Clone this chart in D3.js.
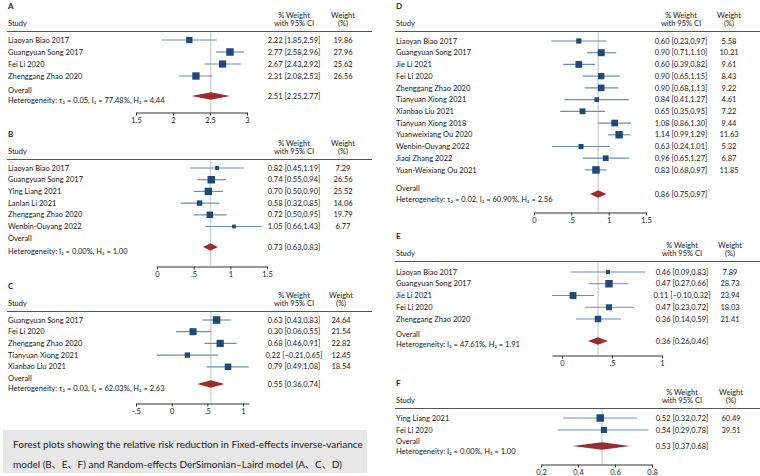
<!DOCTYPE html>
<html>
<head>
<meta charset="utf-8">
<script src="https://cdnjs.cloudflare.com/ajax/libs/d3/7.8.5/d3.min.js"></script>
<style>
  body { margin: 0; background: #fff; }
  svg text { font-family: Lato, "Noto Sans CJK SC", sans-serif; fill: #222; }
</style>
</head>
<body>
<svg id="chart" width="760" height="476"></svg>
<script>
// ---- data ----
// A
var studiesA = ["Liaoyan Biao 2017", "Guangyuan Song 2017", "Fei Li 2020", "Zhenggang Zhao 2020"];
var esA = [2.22, 2.77, 2.67, 2.31];
var loA = [1.85, 2.58, 2.43, 2.08];
var hiA = [2.59, 2.96, 2.92, 2.53];
var wtA = [19.86, 27.96, 25.62, 26.56];
var overallA = [2.51, 2.25, 2.77];
var hetA = "Heterogeneity: τ₂ = 0.05, I₂ = 77.48%, H₂ = 4.44";
var ticksA = [1.5, 2, 2.5, 3];
var tickLabelsA = ["1.5", "2", "2.5", "3"];

// B
var studiesB = ["Liaoyan Biao 2017", "Guangyuan Song 2017", "Ying Liang 2021", "Lanlan Li 2021", "Zhenggang Zhao 2020", "Wenbin-Ouyang 2022"];
var esB = [0.82, 0.74, 0.70, 0.58, 0.72, 1.05];
var loB = [0.45, 0.55, 0.50, 0.32, 0.50, 0.66];
var hiB = [1.19, 0.94, 0.90, 0.85, 0.95, 1.43];
var wtB = [7.29, 26.56, 25.52, 14.06, 19.79, 6.77];
var overallB = [0.73, 0.63, 0.83];
var hetB = "Heterogeneity: I₂ = 0.00%, H₂ = 1.00";
var ticksB = [0, 0.5, 1, 1.5];
var tickLabelsB = ["0", ".5", "1", "1.5"];

// C
var studiesC = ["Guangyuan Song 2017", "Fei Li 2020", "Zhenggang Zhao 2020", "Tianyuan Xiong 2021", "Xianbao Liu 2021"];
var esC = [0.63, 0.30, 0.68, 0.22, 0.79];
var loC = [0.43, 0.06, 0.46, -0.21, 0.49];
var hiC = [0.83, 0.55, 0.91, 0.65, 1.08];
var wtC = [24.64, 21.54, 22.82, 12.45, 18.54];
var overallC = [0.55, 0.36, 0.74];
var hetC = "Heterogeneity: τ₂ = 0.03, I₂ = 62.03%, H₂ = 2.63";
var ticksC = [-0.5, 0, 0.5, 1];
var tickLabelsC = ["-.5", "0", ".5", "1"];

// D
var studiesD = ["Liaoyan Biao 2017", "Guangyuan Song 2017", "Jie Li 2021", "Fei Li 2020", "Zhenggang Zhao 2020", "Tianyuan Xiong 2021",
  "Xianbao Liu 2021", "Tianyuan Xiong 2018", "Yuanweixiang Ou 2020", "Wenbin-Ouyang 2022", "Jiaqi Zhang 2022", "Yuan-Weixiang Ou 2021"];
var esD = [0.60, 0.90, 0.60, 0.90, 0.90, 0.84, 0.65, 1.08, 1.14, 0.63, 0.96, 0.83];
var loD = [0.23, 0.71, 0.39, 0.65, 0.68, 0.41, 0.35, 0.86, 0.99, 0.24, 0.65, 0.68];
var hiD = [0.97, 1.10, 0.82, 1.15, 1.13, 1.27, 0.95, 1.30, 1.29, 1.01, 1.27, 0.97];
var wtD = [5.58, 10.21, 9.61, 8.43, 9.22, 4.61, 7.22, 9.44, 11.63, 5.32, 6.87, 11.85];
var overallD = [0.86, 0.75, 0.97];
var hetD = "Heterogeneity: τ₂ = 0.02, I₂ = 60.90%, H₂ = 2.56";
var ticksD = [0, 0.5, 1, 1.5];
var tickLabelsD = ["0", ".5", "1", "1.5"];

// E
var studiesE = ["Liaoyan Biao 2017", "Guangyuan Song 2017", "Jie Li 2021", "Fei Li 2020", "Zhenggang Zhao 2020"];
var esE = [0.46, 0.47, 0.11, 0.47, 0.36];
var loE = [0.09, 0.27, -0.10, 0.23, 0.14];
var hiE = [0.83, 0.66, 0.32, 0.72, 0.59];
var wtE = [7.89, 28.73, 23.94, 18.03, 21.41];
var overallE = [0.36, 0.26, 0.46];
var hetE = "Heterogeneity: I₂ = 47.61%, H₂ = 1.91";
var ticksE = [0, 0.5, 1];
var tickLabelsE = ["0", ".5", "1"];

// F
var studiesF = ["Ying Liang 2021", "Fei Li 2020"];
var esF = [0.52, 0.54];
var loF = [0.32, 0.29];
var hiF = [0.72, 0.78];
var wtF = [60.49, 39.51];
var overallF = [0.53, 0.37, 0.68];
var hetF = "Heterogeneity: I₂ = 0.00%, H₂ = 1.00";
var ticksF = [0.2, 0.4, 0.6, 0.8];
var tickLabelsF = ["0.2", "0.4", "0.6", "0.8"];

var caption = ["Forest plots showing the relative risk reduction in Fixed-effects inverse-variance",
  "model (B、E、F) and Random-effects DerSimonian–Laird model (A、C、D)"];

// ---- drawing ----
var svg = d3.select("#chart");
svg.append("rect").attr("width", 760).attr("height", 476).attr("fill", "#fff");

var fs = 7.5;
var f2 = d3.format(".2f");
var boxCol = "#1d4a78", ciCol = "#6b8fb4", diaCol = "#9c2b2e";

function drawPanel(cfg, letter, studies, es, lo, hi, wt, overall, het, ticks, tickLabels) {
  var g = svg.append("g");
  var x = d3.scaleLinear().domain([ticks[0], ticks[ticks.length - 1]]).range(cfg.xr);
  var maxW = d3.max(wt);
  var rowY = function (i) { return cfg.rowY0 + i * cfg.rowH; };

  // panel letter + headers
  g.append("text").attr("x", cfg.x0).attr("y", cfg.sep - 25).attr("dy", "0.35em")
    .style("font-size", "8px").style("font-weight", "bold").text(letter);
  g.append("text").attr("x", cfg.x0).attr("y", cfg.sep - 8).attr("dy", "0.35em")
    .style("font-size", fs + "px").text("Study");
  [["% Weight", cfg.valX, -16], ["with 95% CI", cfg.valX, -8], ["Weight", cfg.wX, -16], ["(%)", cfg.wX, -8]].forEach(function (h) {
    g.append("text").attr("x", h[1]).attr("y", cfg.sep + h[2]).attr("dy", "0.35em")
      .attr("text-anchor", "middle").style("font-size", fs + "px").text(h[0]);
  });
  g.append("line").attr("x1", cfg.x0 - 1).attr("x2", cfg.x1).attr("y1", cfg.sep + 0.5).attr("y2", cfg.sep + 0.5)
    .attr("stroke", "#555").attr("stroke-width", 1);

  // reference line at the pooled estimate
  g.append("line").attr("x1", x(overall[0])).attr("x2", x(overall[0]))
    .attr("y1", cfg.sep + 1).attr("y2", cfg.axisY)
    .attr("stroke", "#d6d6d6").attr("stroke-width", 1.5);

  var rows = g.selectAll("g.row").data(studies).enter().append("g").attr("class", "row");
  rows.append("text").attr("x", cfg.x0).attr("y", function (d, i) { return rowY(i); }).attr("dy", "0.35em")
    .style("font-size", fs + "px").text(function (d) { return d; });
  rows.append("line")
    .attr("x1", function (d, i) { return x(lo[i]); }).attr("x2", function (d, i) { return x(hi[i]); })
    .attr("y1", function (d, i) { return rowY(i); }).attr("y2", function (d, i) { return rowY(i); })
    .attr("stroke", ciCol).attr("stroke-width", 1.2);
  rows.append("rect")
    .attr("width", function (d, i) { return 7.5 * Math.sqrt(wt[i] / maxW); })
    .attr("height", function (d, i) { return 7.5 * Math.sqrt(wt[i] / maxW); })
    .attr("x", function (d, i) { return x(es[i]) - 3.75 * Math.sqrt(wt[i] / maxW); })
    .attr("y", function (d, i) { return rowY(i) - 3.75 * Math.sqrt(wt[i] / maxW); })
    .attr("fill", boxCol);
  rows.append("text").attr("x", cfg.valX).attr("y", function (d, i) { return rowY(i); }).attr("dy", "0.35em")
    .attr("text-anchor", "middle").style("font-size", fs + "px")
    .text(function (d, i) { return f2(es[i]) + " [" + f2(lo[i]) + "," + f2(hi[i]) + "]"; });
  rows.append("text").attr("x", cfg.wX).attr("y", function (d, i) { return rowY(i); }).attr("dy", "0.35em")
    .attr("text-anchor", "middle").style("font-size", fs + "px")
    .text(function (d, i) { return f2(wt[i]); });

  // overall
  g.append("text").attr("x", cfg.x0).attr("y", cfg.ovY).attr("dy", "0.35em").style("font-size", fs + "px").text("Overall");
  g.append("text").attr("x", cfg.x0).attr("y", cfg.hetY).attr("dy", "0.35em").style("font-size", fs + "px").text(het);
  var dh = 3.7;
  g.append("path")
    .attr("d", "M" + x(overall[1]) + "," + cfg.diaY + "L" + x(overall[0]) + "," + (cfg.diaY - dh) +
      "L" + x(overall[2]) + "," + cfg.diaY + "L" + x(overall[0]) + "," + (cfg.diaY + dh) + "Z")
    .attr("fill", diaCol);
  g.append("text").attr("x", cfg.valX).attr("y", cfg.diaY).attr("dy", "0.35em")
    .attr("text-anchor", "middle").style("font-size", fs + "px")
    .text(f2(overall[0]) + " [" + f2(overall[1]) + "," + f2(overall[2]) + "]");

  // x axis, line runs over ticks and all CIs
  var lmin = Math.min(ticks[0], d3.min(lo)), lmax = Math.max(ticks[ticks.length - 1], d3.max(hi));
  var xa = x.copy().domain([lmin, lmax]).range([x(lmin), x(lmax)]);
  var ax = g.append("g").attr("transform", "translate(0," + (cfg.axisY + 0.5) + ")")
    .call(d3.axisBottom(xa).tickValues(ticks).tickFormat(function (d, i) { return tickLabels[i]; })
      .tickSize(3).tickSizeOuter(0).tickPadding(2));
  ax.attr("font-family", null).attr("font-size", null);
  ax.selectAll("text").style("font-size", fs + "px");
  ax.selectAll("path, line").attr("stroke", "#333");
}

var L = { x0: 8, x1: 372, valX: 294, wX: 343 };
var R = { x0: 396, x1: 760, valX: 681, wX: 729 };

drawPanel(Object.assign({}, L, { sep: 31, rowY0: 40, rowH: 12, ovY: 90, diaY: 96, hetY: 100, axisY: 112, xr: [136, 247] }),
  "A", studiesA, esA, loA, hiA, wtA, overallA, hetA, ticksA, tickLabelsA);
drawPanel(Object.assign({}, L, { sep: 159, rowY0: 168, rowH: 11.7, ovY: 238, diaY: 247, hetY: 251, axisY: 266, xr: [157, 267] }),
  "B", studiesB, esB, loB, hiB, wtB, overallB, hetB, ticksB, tickLabelsB);
drawPanel(Object.assign({}, L, { sep: 311, rowY0: 320, rowH: 11.7, ovY: 378, diaY: 384, hetY: 388, axisY: 403, xr: [136, 243], wX: 341 }),
  "C", studiesC, esC, loC, hiC, wtC, overallC, hetC, ticksC, tickLabelsC);
drawPanel(Object.assign({}, R, { sep: 31, rowY0: 41, rowH: 11.72, ovY: 188, diaY: 194, hetY: 199, axisY: 212, xr: [534, 646] }),
  "D", studiesD, esD, loD, hiD, wtD, overallD, hetD, ticksD, tickLabelsD);
drawPanel(Object.assign({}, R, { sep: 261, rowY0: 272, rowH: 11.75, ovY: 334, diaY: 341, hetY: 344, axisY: 355, xr: [562, 662], valX: 682, wX: 730 }),
  "E", studiesE, esE, loE, hiE, wtE, overallE, hetE, ticksE, tickLabelsE);
drawPanel(Object.assign({}, R, { sep: 408, rowY0: 418, rowH: 12, ovY: 441, diaY: 446, hetY: 451, axisY: 464, xr: [541, 652], valX: 682, wX: 731 }),
  "F", studiesF, esF, loF, hiF, wtF, overallF, hetF, ticksF, tickLabelsF);

// caption box
svg.append("rect").attr("x", 3).attr("y", 430).attr("width", 364).attr("height", 43).attr("fill", "#e7e7e7");
svg.selectAll("text.cap").data(caption).enter().append("text").attr("class", "cap")
  .attr("x", 13).attr("y", function (d, i) { return 444 + i * 20; }).attr("dy", "0.35em")
  .style("font-size", "10px").text(function (d) { return d; });
</script>
</body>
</html>
